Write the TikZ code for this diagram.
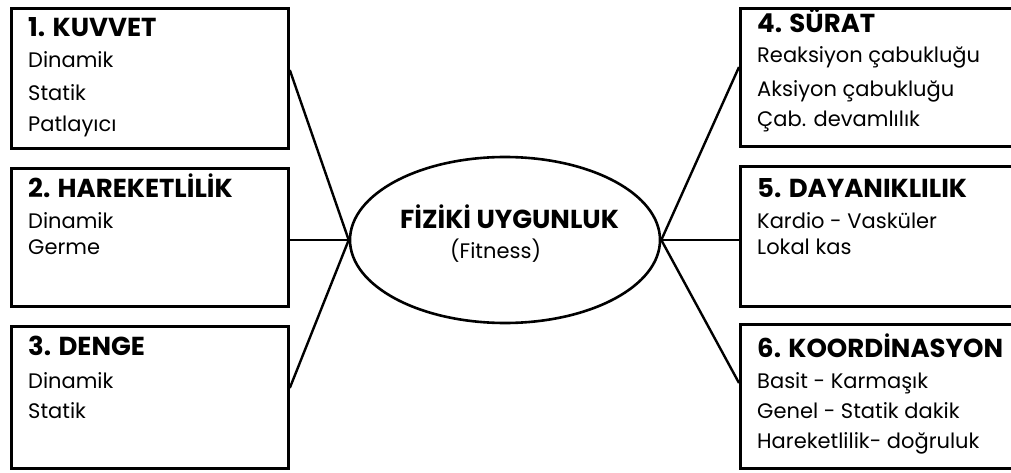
\documentclass[tikz,border=0pt]{standalone}
\usepackage{fontspec}
\setmainfont{Poppins}
\usetikzlibrary{shapes.geometric}
\tikzset{
  box/.style={draw, line width=2.8pt, rectangle, anchor=north west, inner sep=0pt},
  oval/.style={draw, line width=2.6pt, ellipse, inner sep=0pt, minimum width=310pt, minimum height=166pt},
  conn/.style={line width=2.4pt},
  title/.style={anchor=base west, inner sep=0pt, font=\fontsize{26}{26}\selectfont\bfseries},
  item/.style={anchor=base west, inner sep=0pt, font=\fontsize{21}{21}\selectfont},
}
\begin{document}
\begin{tikzpicture}[x=1pt,y=-1pt]
\clip (0,0) rectangle (1011,473);
\fill[white] (0,0) rectangle (1011,473);
% boxes
\node[box, minimum width=277pt, minimum height=140pt] (b1) at (10,7) {};
\node[box, minimum width=277pt, minimum height=138pt] (b2) at (10,167) {};
\node[box, minimum width=277pt, minimum height=142pt] (b3) at (10,325) {};
\node[box, minimum width=290pt, minimum height=138pt] (b4) at (739,7) {};
\node[box, minimum width=290pt, minimum height=140pt] (b5) at (739,165) {};
\node[box, minimum width=290pt, minimum height=144pt] (b6) at (739,323) {};
% centre
\node[oval] (fit) at (505,240) {};
\node[title] (ft) at (400,228) {FİZİKİ UYGUNLUK};
\node[item] (fs) at (450,258) {(Fitness)};
% box 1
\node[title] (t1) at (28,37) {1. KUVVET};
\node[item] (t1a) at (28,68) {Dinamik};
\node[item] (t1b) at (28,101) {Statik};
\node[item] (t1c) at (28,132) {Patlayıcı};
% box 2
\node[title] (t2) at (28,197) {2. HAREKETLİLİK};
\node[item] (t2a) at (28,228) {Dinamik};
\node[item] (t2b) at (28,254) {Germe};
% box 3
\node[title] (t3) at (28,355) {3. DENGE};
\node[item] (t3a) at (28,388) {Dinamik};
\node[item] (t3b) at (28,418) {Statik};
% box 4
\node[title] (t4) at (757,33) {4. SÜRAT};
\node[item] (t4a) at (757,63) {Reaksiyon çabukluğu};
\node[item] (t4b) at (757,97) {Aksiyon çabukluğu};
\node[item] (t4c) at (757,127) {Çab. devamlılık};
% box 5
\node[title] (t5) at (757,197) {5. DAYANIKLILIK};
\node[item] (t5a) at (757,228) {Kardio - Vasküler};
\node[item] (t5b) at (757,254) {Lokal kas};
% box 6
\node[title] (t6) at (757,357) {6. KOORDİNASYON};
\node[item] (t6a) at (757,388) {Basit - Karmaşık};
\node[item] (t6b) at (757,418) {Genel - Statik dakik};
\node[item] (t6c) at (757,448) {Hareketlilik- doğruluk};
% connectors
\draw[conn] ([yshift=-63pt]b1.north east) -- (fit.west);
\draw[conn] ([yshift=-73pt]b2.north east) -- (fit.west);
\draw[conn] ([yshift=-63pt]b3.north east) -- (fit.west);
\draw[conn] ([yshift=-60pt]b4.north west) -- (fit.east);
\draw[conn] ([yshift=-75pt]b5.north west) -- (fit.east);
\draw[conn] ([yshift=-60pt]b6.north west) -- (fit.east);
\end{tikzpicture}
\end{document}
